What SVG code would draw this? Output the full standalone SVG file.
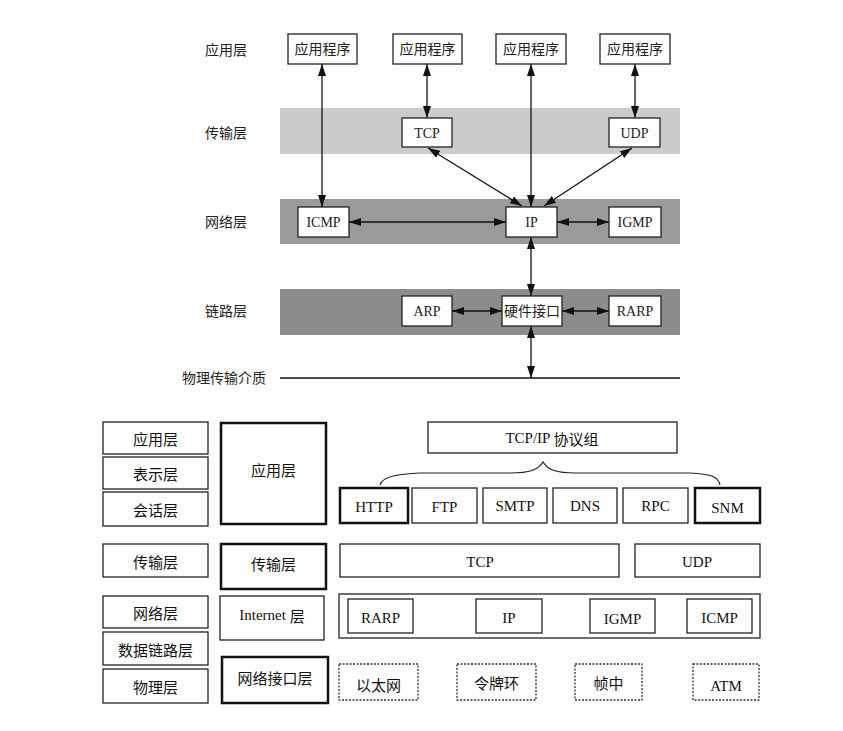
<svg xmlns="http://www.w3.org/2000/svg" width="843" height="731" viewBox="0 0 843 731">
<style>
.bg{fill:#fff}
.lbl{font-family:"Liberation Serif","Noto Sans CJK SC",serif;font-size:14px;fill:#222;text-anchor:middle;dominant-baseline:central}
.box{fill:#fff;stroke:#222;stroke-width:1.3}
.tbox{fill:#fff;stroke:#111;stroke-width:2.5}
.dbox{fill:#fff;stroke:#333;stroke-width:1.3;stroke-dasharray:2 1.5}
.t2{font-family:"Liberation Serif","Noto Sans CJK SC",serif;font-size:15px;fill:#111;text-anchor:middle;dominant-baseline:central}
.cn{font-family:"Noto Sans CJK SC",sans-serif;font-size:15px;fill:#111;text-anchor:middle;dominant-baseline:central}
.ar{stroke:#111;stroke-width:1.3;fill:none;marker-start:url(#ah);marker-end:url(#ah)}
</style>
<defs>
<marker id="ah" viewBox="0 0 12 8" refX="12" refY="4" markerWidth="12" markerHeight="8" markerUnits="userSpaceOnUse" orient="auto-start-reverse">
<path d="M0,0 L12,4 L0,8 z" fill="#111"/>
</marker>
</defs>
<rect class="bg" x="0" y="0" width="843" height="731"/>

<g id="bands">
<rect x="280" y="108" width="400" height="46" fill="#cbcbcb"/>
<rect x="280" y="199" width="400" height="45" fill="#9a9a9a"/>
<rect x="280" y="289" width="400" height="46" fill="#8c8c8c"/>
<line x1="280" y1="378" x2="680" y2="378" stroke="#111" stroke-width="1.3"/>
</g>

<g id="layer-labels">
<text class="lbl" x="226" y="50">应用层</text>
<text class="lbl" x="226" y="133">传输层</text>
<text class="lbl" x="226" y="222">网络层</text>
<text class="lbl" x="226" y="311">链路层</text>
<text class="lbl" x="224" y="378">物理传输介质</text>
</g>

<g id="connectors">
<line class="ar" x1="322" y1="64" x2="322" y2="207"/>
<line class="ar" x1="427" y1="64" x2="427" y2="118"/>
<line class="ar" x1="531" y1="64" x2="531" y2="207"/>
<line class="ar" x1="635" y1="64" x2="635" y2="118"/>
<line class="ar" x1="428" y1="148" x2="522" y2="206"/>
<line class="ar" x1="632" y1="148" x2="544" y2="206"/>
<line class="ar" x1="349" y1="222" x2="506" y2="222"/>
<line class="ar" x1="557" y1="222" x2="609" y2="222"/>
<line class="ar" x1="531" y1="237" x2="531" y2="296"/>
<line class="ar" x1="452" y1="311" x2="502" y2="311"/>
<line class="ar" x1="562" y1="311" x2="609" y2="311"/>
<line class="ar" x1="531" y1="326" x2="531" y2="378"/>
</g>

<g id="app1"><rect class="box" x="288" y="34" width="69" height="30"/><text class="lbl" x="322.5" y="49">应用程序</text></g>
<g id="app2"><rect class="box" x="393" y="34" width="69" height="30"/><text class="lbl" x="427.5" y="49">应用程序</text></g>
<g id="app3"><rect class="box" x="496" y="34" width="70" height="30"/><text class="lbl" x="531" y="49">应用程序</text></g>
<g id="app4"><rect class="box" x="600" y="34" width="70" height="30"/><text class="lbl" x="635" y="49">应用程序</text></g>
<g id="tcp"><rect class="box" x="402" y="118" width="50" height="29"/><text class="lbl" x="427" y="133">TCP</text></g>
<g id="udp"><rect class="box" x="609" y="118" width="51" height="29"/><text class="lbl" x="634.5" y="133">UDP</text></g>
<g id="icmp"><rect class="box" x="298" y="207" width="51" height="30"/><text class="lbl" x="323.5" y="222">ICMP</text></g>
<g id="ip"><rect class="box" x="506" y="207" width="51" height="30"/><text class="lbl" x="531.5" y="222">IP</text></g>
<g id="igmp"><rect class="box" x="609" y="207" width="52" height="30"/><text class="lbl" x="635" y="222">IGMP</text></g>
<g id="arp"><rect class="box" x="402" y="296" width="50" height="30"/><text class="lbl" x="427" y="311">ARP</text></g>
<g id="hw"><rect class="box" x="502" y="296" width="60" height="30"/><text class="lbl" x="532" y="311">硬件接口</text></g>
<g id="rarp"><rect class="box" x="609" y="296" width="52" height="30"/><text class="lbl" x="635" y="311">RARP</text></g>

<g id="osi-app"><rect class="box" x="103" y="422" width="105" height="32"/><text class="cn" x="155.5" y="438">应用层</text></g>
<g id="osi-pres"><rect class="box" x="103" y="457" width="105" height="32"/><text class="cn" x="155.5" y="473">表示层</text></g>
<g id="osi-sess"><rect class="box" x="103" y="492" width="105" height="34"/><text class="cn" x="155.5" y="509">会话层</text></g>
<g id="osi-trans"><rect class="box" x="103" y="544" width="105" height="33"/><text class="cn" x="155.5" y="561">传输层</text></g>
<g id="osi-net"><rect class="box" x="103" y="596" width="105" height="32"/><text class="cn" x="155.5" y="612">网络层</text></g>
<g id="osi-link"><rect class="box" x="103" y="632" width="105" height="33"/><text class="cn" x="155.5" y="649">数据链路层</text></g>
<g id="osi-phy"><rect class="box" x="103" y="669" width="105" height="34"/><text class="cn" x="155.5" y="686">物理层</text></g>

<g id="tcpip-app"><rect class="tbox" x="221" y="423" width="105" height="101"/><text class="cn" x="273.5" y="469">应用层</text></g>
<g id="tcpip-trans"><rect class="tbox" x="221" y="544" width="105" height="45"/><text class="cn" x="273.5" y="563">传输层</text></g>
<g id="tcpip-inet"><rect class="box" x="220" y="596" width="104" height="44" stroke-width="2"/><text class="t2" x="272" y="615">Internet <tspan font-family="Noto Sans CJK SC,sans-serif">层</tspan></text></g>
<g id="tcpip-nif"><rect class="tbox" x="222" y="657" width="106" height="46"/><text class="cn" x="275" y="677">网络接口层</text></g>

<g id="suite"><rect class="box" x="428" y="422" width="249" height="31"/><text class="t2" x="552" y="438">TCP/IP <tspan font-family="Noto Sans CJK SC,sans-serif">协议组</tspan></text></g>
<g id="brace"><path d="M380,485 C382,476 400,474 420,473 L510,473 C530,473 538,470 543,462 C548,470 556,473 576,473 L690,473 C710,474 718,476 720,485" fill="none" stroke="#222" stroke-width="1.2"/></g>

<g id="http"><rect class="tbox" x="340" y="488" width="68" height="35"/><text class="t2" x="374" y="507">HTTP</text></g>
<g id="ftp"><rect class="box" x="412" y="488" width="65" height="35"/><text class="t2" x="444.5" y="507">FTP</text></g>
<g id="smtp"><rect class="box" x="483" y="488" width="64" height="35"/><text class="t2" x="515" y="506">SMTP</text></g>
<g id="dns"><rect class="box" x="553" y="488" width="64" height="35" stroke-width="1.8"/><text class="t2" x="585" y="506">DNS</text></g>
<g id="rpc"><rect class="box" x="623" y="488" width="65" height="35"/><text class="t2" x="655.5" y="506">RPC</text></g>
<g id="snm"><rect class="tbox" x="695" y="488" width="65" height="35"/><text class="t2" x="727.5" y="508">SNM</text></g>

<g id="b-tcp"><rect class="box" x="340" y="544" width="279" height="33" stroke-width="2"/><text class="t2" x="480" y="562">TCP</text></g>
<g id="b-udp"><rect class="box" x="635" y="544" width="125" height="33" stroke-width="1.6"/><text class="t2" x="697" y="562">UDP</text></g>

<g id="inet-row"><rect class="box" x="339" y="594" width="421" height="44" stroke-width="1.6"/></g>
<g id="b-rarp"><rect class="box" x="348" y="599" width="65" height="34"/><text class="t2" x="380.5" y="618">RARP</text></g>
<g id="b-ip"><rect class="box" x="476" y="599" width="66" height="34"/><text class="t2" x="509" y="618">IP</text></g>
<g id="b-igmp"><rect class="box" x="590" y="599" width="65" height="34"/><text class="t2" x="622.5" y="619">IGMP</text></g>
<g id="b-icmp"><rect class="box" x="687" y="599" width="65" height="34"/><text class="t2" x="719.5" y="618">ICMP</text></g>

<g id="ethernet"><rect class="dbox" x="339" y="664" width="79" height="36"/><text class="cn" x="378.5" y="684">以太网</text></g>
<g id="tokenring"><rect class="dbox" x="457" y="664" width="79" height="36"/><text class="cn" x="496.5" y="682">令牌环</text></g>
<g id="framerelay"><rect class="dbox" x="575" y="664" width="67" height="36"/><text class="cn" x="608.5" y="682">帧中</text></g>
<g id="atm"><rect class="dbox" x="693" y="664" width="66" height="36"/><text class="t2" x="726" y="686">ATM</text></g>
</svg>
